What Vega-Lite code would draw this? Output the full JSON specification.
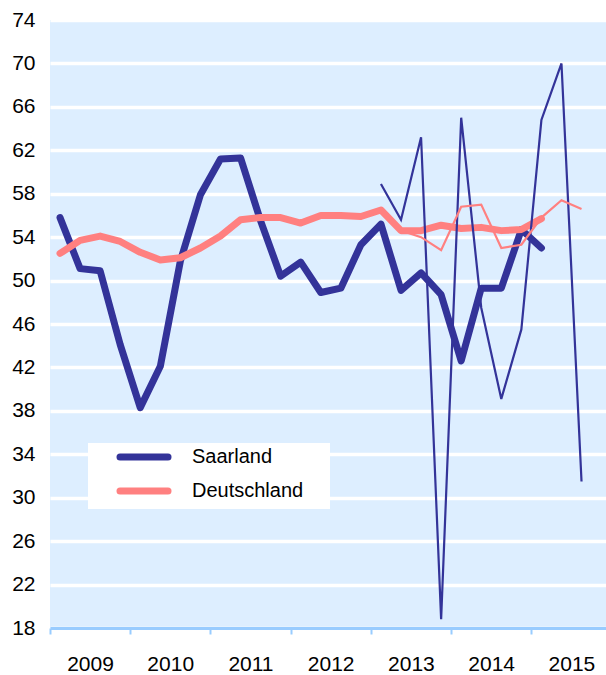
{
  "$schema": "https://vega.github.io/schema/vega-lite/v6.json",
  "width": 556,
  "height": 608,
  "autosize": {"type": "none"},
  "padding": {"left": 50, "top": 20, "right": 0, "bottom": 47},
  "background": "white",
  "config": {"view": {"fill": "#ddeeff", "stroke": null}, "font": "Liberation Sans"},
  "data": {"values": [
    {"t": 2009.125, "value": 55.8, "series": "Saarland", "kind": "thick"},
    {"t": 2009.375, "value": 51.1, "series": "Saarland", "kind": "thick"},
    {"t": 2009.625, "value": 50.9, "series": "Saarland", "kind": "thick"},
    {"t": 2009.875, "value": 44.1, "series": "Saarland", "kind": "thick"},
    {"t": 2010.125, "value": 38.3, "series": "Saarland", "kind": "thick"},
    {"t": 2010.375, "value": 42.1, "series": "Saarland", "kind": "thick"},
    {"t": 2010.625, "value": 51.8, "series": "Saarland", "kind": "thick"},
    {"t": 2010.875, "value": 57.9, "series": "Saarland", "kind": "thick"},
    {"t": 2011.125, "value": 61.2, "series": "Saarland", "kind": "thick"},
    {"t": 2011.375, "value": 61.3, "series": "Saarland", "kind": "thick"},
    {"t": 2011.625, "value": 55.5, "series": "Saarland", "kind": "thick"},
    {"t": 2011.875, "value": 50.4, "series": "Saarland", "kind": "thick"},
    {"t": 2012.125, "value": 51.7, "series": "Saarland", "kind": "thick"},
    {"t": 2012.375, "value": 48.9, "series": "Saarland", "kind": "thick"},
    {"t": 2012.625, "value": 49.3, "series": "Saarland", "kind": "thick"},
    {"t": 2012.875, "value": 53.3, "series": "Saarland", "kind": "thick"},
    {"t": 2013.125, "value": 55.2, "series": "Saarland", "kind": "thick"},
    {"t": 2013.375, "value": 49.1, "series": "Saarland", "kind": "thick"},
    {"t": 2013.625, "value": 50.7, "series": "Saarland", "kind": "thick"},
    {"t": 2013.875, "value": 48.7, "series": "Saarland", "kind": "thick"},
    {"t": 2014.125, "value": 42.6, "series": "Saarland", "kind": "thick"},
    {"t": 2014.375, "value": 49.3, "series": "Saarland", "kind": "thick"},
    {"t": 2014.625, "value": 49.3, "series": "Saarland", "kind": "thick"},
    {"t": 2014.875, "value": 54.7, "series": "Saarland", "kind": "thick"},
    {"t": 2015.125, "value": 53.0, "series": "Saarland", "kind": "thick"},
    {"t": 2009.125, "value": 52.5, "series": "Deutschland", "kind": "thick"},
    {"t": 2009.375, "value": 53.7, "series": "Deutschland", "kind": "thick"},
    {"t": 2009.625, "value": 54.1, "series": "Deutschland", "kind": "thick"},
    {"t": 2009.875, "value": 53.6, "series": "Deutschland", "kind": "thick"},
    {"t": 2010.125, "value": 52.6, "series": "Deutschland", "kind": "thick"},
    {"t": 2010.375, "value": 51.9, "series": "Deutschland", "kind": "thick"},
    {"t": 2010.625, "value": 52.1, "series": "Deutschland", "kind": "thick"},
    {"t": 2010.875, "value": 53.0, "series": "Deutschland", "kind": "thick"},
    {"t": 2011.125, "value": 54.1, "series": "Deutschland", "kind": "thick"},
    {"t": 2011.375, "value": 55.6, "series": "Deutschland", "kind": "thick"},
    {"t": 2011.625, "value": 55.8, "series": "Deutschland", "kind": "thick"},
    {"t": 2011.875, "value": 55.8, "series": "Deutschland", "kind": "thick"},
    {"t": 2012.125, "value": 55.3, "series": "Deutschland", "kind": "thick"},
    {"t": 2012.375, "value": 56.0, "series": "Deutschland", "kind": "thick"},
    {"t": 2012.625, "value": 56.0, "series": "Deutschland", "kind": "thick"},
    {"t": 2012.875, "value": 55.9, "series": "Deutschland", "kind": "thick"},
    {"t": 2013.125, "value": 56.5, "series": "Deutschland", "kind": "thick"},
    {"t": 2013.375, "value": 54.6, "series": "Deutschland", "kind": "thick"},
    {"t": 2013.625, "value": 54.6, "series": "Deutschland", "kind": "thick"},
    {"t": 2013.875, "value": 55.1, "series": "Deutschland", "kind": "thick"},
    {"t": 2014.125, "value": 54.8, "series": "Deutschland", "kind": "thick"},
    {"t": 2014.375, "value": 54.9, "series": "Deutschland", "kind": "thick"},
    {"t": 2014.625, "value": 54.6, "series": "Deutschland", "kind": "thick"},
    {"t": 2014.875, "value": 54.7, "series": "Deutschland", "kind": "thick"},
    {"t": 2015.125, "value": 55.7, "series": "Deutschland", "kind": "thick"},
    {"t": 2013.125, "value": 58.9, "series": "Saarland", "kind": "thin"},
    {"t": 2013.375, "value": 55.6, "series": "Saarland", "kind": "thin"},
    {"t": 2013.625, "value": 63.2, "series": "Saarland", "kind": "thin"},
    {"t": 2013.875, "value": 18.8, "series": "Saarland", "kind": "thin"},
    {"t": 2014.125, "value": 65.0, "series": "Saarland", "kind": "thin"},
    {"t": 2014.375, "value": 47.5, "series": "Saarland", "kind": "thin"},
    {"t": 2014.625, "value": 39.1, "series": "Saarland", "kind": "thin"},
    {"t": 2014.875, "value": 45.5, "series": "Saarland", "kind": "thin"},
    {"t": 2015.125, "value": 64.8, "series": "Saarland", "kind": "thin"},
    {"t": 2015.375, "value": 70.0, "series": "Saarland", "kind": "thin"},
    {"t": 2015.625, "value": 31.5, "series": "Saarland", "kind": "thin"},
    {"t": 2013.125, "value": 56.4, "series": "Deutschland", "kind": "thin"},
    {"t": 2013.375, "value": 54.6, "series": "Deutschland", "kind": "thin"},
    {"t": 2013.625, "value": 54.0, "series": "Deutschland", "kind": "thin"},
    {"t": 2013.875, "value": 52.8, "series": "Deutschland", "kind": "thin"},
    {"t": 2014.125, "value": 56.8, "series": "Deutschland", "kind": "thin"},
    {"t": 2014.375, "value": 57.0, "series": "Deutschland", "kind": "thin"},
    {"t": 2014.625, "value": 53.0, "series": "Deutschland", "kind": "thin"},
    {"t": 2014.875, "value": 53.3, "series": "Deutschland", "kind": "thin"},
    {"t": 2015.125, "value": 55.8, "series": "Deutschland", "kind": "thin"},
    {"t": 2015.375, "value": 57.4, "series": "Deutschland", "kind": "thin"},
    {"t": 2015.625, "value": 56.6, "series": "Deutschland", "kind": "thin"}
  ]},
  "encoding": {
    "x": {
      "field": "t", "type": "quantitative",
      "scale": {"domain": [2009, 2015.93], "nice": false, "zero": false},
      "axis": {
        "values": [2009, 2010, 2011, 2012, 2013, 2014, 2015],
        "format": "d", "labelOffset": 40, "labelFlush": false, "labelOverlap": false,
        "domainColor": "#99ccff", "domainWidth": 3,
        "tickColor": "#99ccff", "tickWidth": 2, "tickSize": 6,
        "labelFontSize": 21, "labelColor": "black", "labelPadding": 19,
        "grid": false, "title": null, "zindex": 1
      }
    },
    "y": {
      "field": "value", "type": "quantitative",
      "scale": {"domain": [18, 74], "nice": false, "zero": false},
      "axis": {
        "values": [18, 22, 26, 30, 34, 38, 42, 46, 50, 54, 58, 62, 66, 70, 74],
        "domain": false, "ticks": false,
        "grid": true, "gridColor": "white", "gridWidth": 3.5, "gridOpacity": 1,
        "labelFontSize": 21, "labelColor": "black", "labelPadding": 15,
        "title": null
      }
    },
    "color": {
      "field": "series", "type": "nominal",
      "scale": {"domain": ["Saarland", "Deutschland"], "range": ["#333399", "#ff8080"]},
      "legend": {
        "orient": "none", "legendX": 38, "legendY": 423,
        "title": "\u2800", "titleOrient": "right", "titlePadding": 17, "titleFontSize": 8, "titleColor": "white",
        "fillColor": "white", "padding": 4,
        "symbolType": "M-4,0H4", "symbolSize": 144, "symbolStrokeWidth": 7,
        "symbolOffset": 42, "labelOffset": 38, "labelFontSize": 20, "labelColor": "black",
        "rowPadding": 6,
        "encode": {"symbols": {"update": {"strokeCap": {"value": "round"}}}}
      }
    }
  },
  "layer": [
    {
      "transform": [{"filter": "datum.kind === 'thick'"}],
      "mark": {"type": "line", "strokeWidth": 7, "strokeCap": "round", "strokeJoin": "round"}
    },
    {
      "transform": [{"filter": "datum.kind === 'thin'"}],
      "mark": {"type": "line", "strokeWidth": 2.2, "strokeJoin": "miter"}
    }
  ]
}
